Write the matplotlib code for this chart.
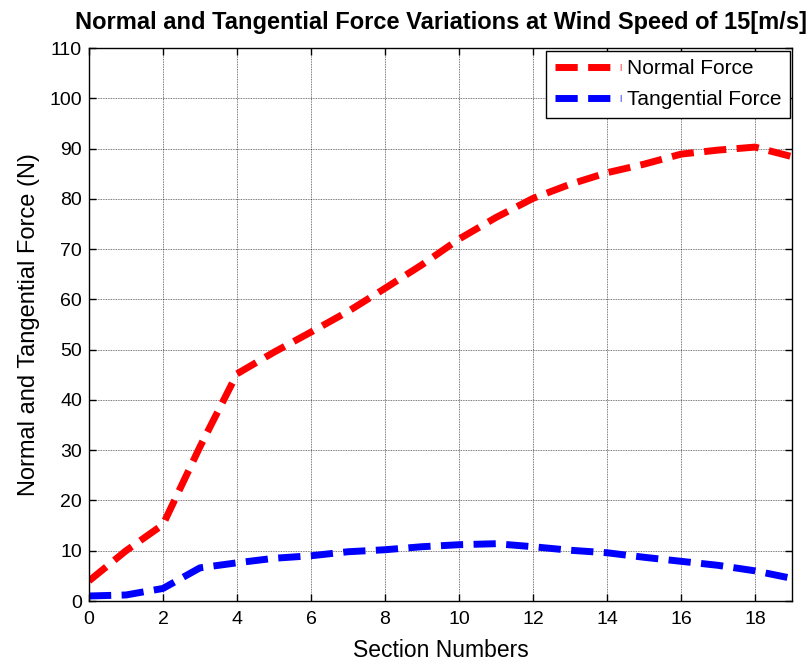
import matplotlib
matplotlib.use("Agg")
import matplotlib.pyplot as plt

plt.rcParams['font.family'] = ['Liberation Sans', 'DejaVu Sans']

sections = list(range(0, 20))
normal_force = [4.0, 10.0, 15.2, 30.7, 45.2, 49.5, 53.5, 57.6, 62.2, 66.9,
                72.0, 76.3, 80.1, 82.9, 85.2, 86.9, 88.9, 89.7, 90.3, 88.4]
tangential_force = [1.0, 1.2, 2.5, 6.6, 7.6, 8.5, 9.0, 9.8, 10.2, 10.8,
                    11.2, 11.4, 10.8, 10.1, 9.6, 8.7, 7.9, 7.1, 6.0, 4.5]
xticks = list(range(0, 20, 2))
yticks = list(range(0, 111, 10))

fig = plt.figure(figsize=(8.09, 6.63), dpi=100)
ax = fig.add_axes([0.110, 0.0935, 0.869, 0.834])

ax.plot(sections, normal_force, color='#ff0000', lw=5, dashes=(3.2, 1.5),
        label='Normal Force')
ax.plot(sections, tangential_force, color='#0000ff', lw=5, dashes=(3.2, 1.5),
        label='Tangential Force')

ax.set_xlim(0, 19)
ax.set_ylim(0, 110)
ax.set_xticks(xticks)
ax.set_yticks(yticks)
ax.tick_params(direction='in', top=True, right=True, labelsize=14, length=5,
               width=1, pad=5)
ax.tick_params(axis='x', pad=7)
ax.grid(True, color='black', linestyle=(0, (1, 1)), linewidth=0.6, alpha=0.7)
for s in ax.spines.values():
    s.set_linewidth(1.0)

ax.set_xlabel('Section Numbers', fontsize=16.5, labelpad=8)
ax.set_ylabel('Normal and Tangential Force (N)', fontsize=17, labelpad=7)
ax.set_title('Normal and Tangential Force Variations at Wind Speed of 15[m/s]',
             fontsize=17, fontweight='bold', pad=14)

leg = ax.legend(loc='upper right', fontsize=15, handlelength=3.2,
                fancybox=False, framealpha=1, edgecolor='black',
                borderaxespad=0.12, labelspacing=0.6, handletextpad=0.25,
                borderpad=0.4)
leg.get_frame().set_linewidth(1.0)

fig.savefig('out.png', dpi=100)
